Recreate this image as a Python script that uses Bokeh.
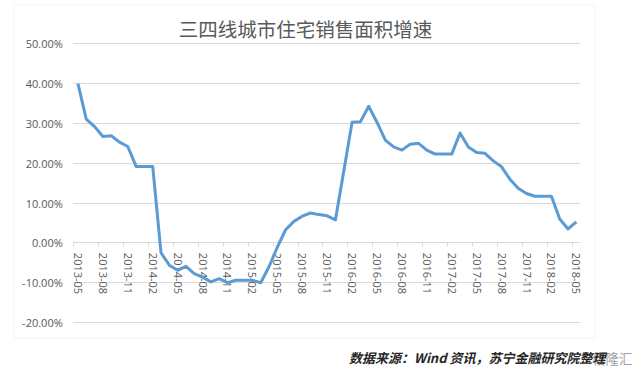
from bokeh.plotting import figure
from bokeh.models import (FixedTicker, NumeralTickFormatter, Label, BoxAnnotation,
                          Range1d, ColumnDataSource)
from bokeh.embed import file_html
from bokeh.resources import INLINE

# ---- data ----
months = [
    "2013-05", "2013-06", "2013-07", "2013-08", "2013-09", "2013-10", "2013-11", "2013-12",
    "2014-01", "2014-02", "2014-03", "2014-04", "2014-05", "2014-06", "2014-07", "2014-08",
    "2014-09", "2014-10", "2014-11", "2014-12", "2015-01", "2015-02", "2015-03", "2015-04",
    "2015-05", "2015-06", "2015-07", "2015-08", "2015-09", "2015-10", "2015-11", "2015-12",
    "2016-01", "2016-02", "2016-03", "2016-04", "2016-05", "2016-06", "2016-07", "2016-08",
    "2016-09", "2016-10", "2016-11", "2016-12", "2017-01", "2017-02", "2017-03", "2017-04",
    "2017-05", "2017-06", "2017-07", "2017-08", "2017-09", "2017-10", "2017-11", "2017-12",
    "2018-01", "2018-02", "2018-03", "2018-04", "2018-05",
]
growth_pct = [
    40.0, 31.1, 29.2, 26.7, 26.9, 25.3, 24.2, 19.2,
    19.2, 19.2, -2.5, -5.6, -6.9, -5.9, -7.7, -8.6,
    -9.8, -9.0, -10.0, -9.4, -9.4, -9.4, -10.0, -6.0,
    -1.1, 3.3, 5.4, 6.7, 7.5, 7.1, 6.8, 5.8,
    18.0, 30.3, 30.4, 34.3, 30.3, 25.8, 24.1, 23.3,
    24.8, 25.0, 23.3, 22.3, 22.3, 22.3, 27.6, 24.1,
    22.7, 22.5, 20.6, 19.1, 16.0, 13.7, 12.4, 11.7,
    11.7, 11.7, 6.0, 3.5, 5.3,
]
y_ticks_pct = [-20, -10, 0, 10, 20, 30, 40, 50]
label_step = 3
title_text = "三四线城市住宅销售面积增速"
source_text = "数据来源：Wind 资讯，苏宁金融研究院整理"
watermark_text = "格隆汇"

# ---- layout (pixels) ----
W, H = 640, 373
PLOT_L, PLOT_R, PLOT_T, PLOT_B = 73.3, 580.0, 43.3, 322.0

n = len(months)
idx = list(range(n))
src = ColumnDataSource(dict(x=idx, y=[v / 100 for v in growth_pct], month=months))

y_lo, y_hi = y_ticks_pct[0] / 100, y_ticks_pct[-1] / 100
ux = (PLOT_R - PLOT_L) / n
x_start = -0.5 - PLOT_L / ux
x_end = x_start + W / ux
uy = (PLOT_B - PLOT_T) / (y_hi - y_lo)
y_end = y_hi + PLOT_T / uy
y_start = y_end - H / uy

GRID = "#d9d9d9"
TXT = "#595959"
FONT = "Open Sans"
CJK = "Noto Sans CJK SC"

p = figure(width=W, height=H, output_backend="svg", toolbar_location=None,
           x_range=Range1d(x_start, x_end), y_range=Range1d(y_start, y_end),
           min_border=0, min_border_left=0, min_border_right=0,
           min_border_top=0, min_border_bottom=0,
           background_fill_color="white", border_fill_color="white")
p.outline_line_color = None

# y axis, drawn at the left edge of the plot area
yax = p.yaxis[0]
yax.fixed_location = -0.5
yax.ticker = FixedTicker(ticks=[t / 100 for t in y_ticks_pct])
yax.formatter = NumeralTickFormatter(format="0.00%")
yax.axis_line_color = None
yax.major_tick_line_color = None
yax.major_tick_out = 0
yax.minor_tick_line_color = None
yax.major_label_text_font = FONT
yax.major_label_text_font_size = "11px"
yax.major_label_text_color = TXT
yax.major_label_standoff = 11

p.ygrid.grid_line_color = GRID
p.ygrid.grid_line_width = 1
p.ygrid.cross_bounds = (-0.5, n - 0.5)
p.xgrid.grid_line_color = None

# x axis at y = 0
xax = p.xaxis[0]
label_pos = idx[::label_step]
xax.fixed_location = 0
xax.bounds = (-0.5, n - 0.5)
xax.ticker = FixedTicker(ticks=label_pos, minor_ticks=[i - 0.5 for i in label_pos])
xax.major_label_overrides = {i: months[i] for i in label_pos}
xax.axis_line_color = GRID
xax.major_tick_line_color = None
xax.major_tick_out = 0
xax.major_tick_in = 0
xax.minor_tick_line_color = GRID
xax.minor_tick_out = 4
xax.minor_tick_in = 0
xax.major_label_orientation = "vertical"
xax.major_label_text_font = FONT
xax.major_label_text_font_size = "11px"
xax.major_label_text_color = TXT
xax.major_label_standoff = 6

r = p.line("x", "y", source=src, line_color="#5b9bd5", line_width=3, line_join="round")
r.level = "overlay"

# chart border (screen units, origin bottom-left of canvas)
p.add_layout(BoxAnnotation(left=13.5, right=594.5, top=H - 4.5, bottom=H - 337.5,
                           left_units="screen", right_units="screen",
                           top_units="screen", bottom_units="screen",
                           fill_color=None, line_color=GRID, line_width=1))

p.add_layout(Label(x=305, y=H - 28, x_units="screen", y_units="screen", text=title_text,
                   text_align="center", text_baseline="middle",
                   text_font=CJK, text_font_size="19.5px", text_color=TXT))

p.add_layout(Label(x=632, y=H - 357, x_units="screen", y_units="screen", text=watermark_text,
                   text_align="right", text_baseline="middle",
                   text_font=CJK, text_font_size="13.5px", text_color="#a0a0a0"))

p.add_layout(Label(x=605, y=H - 357, x_units="screen", y_units="screen", text=source_text,
                   text_align="right", text_baseline="middle",
                   text_font=CJK, text_font_size="13px", text_color="#262626",
                   text_font_style="bold italic"))

open("out.html", "w").write(file_html(p, INLINE))
